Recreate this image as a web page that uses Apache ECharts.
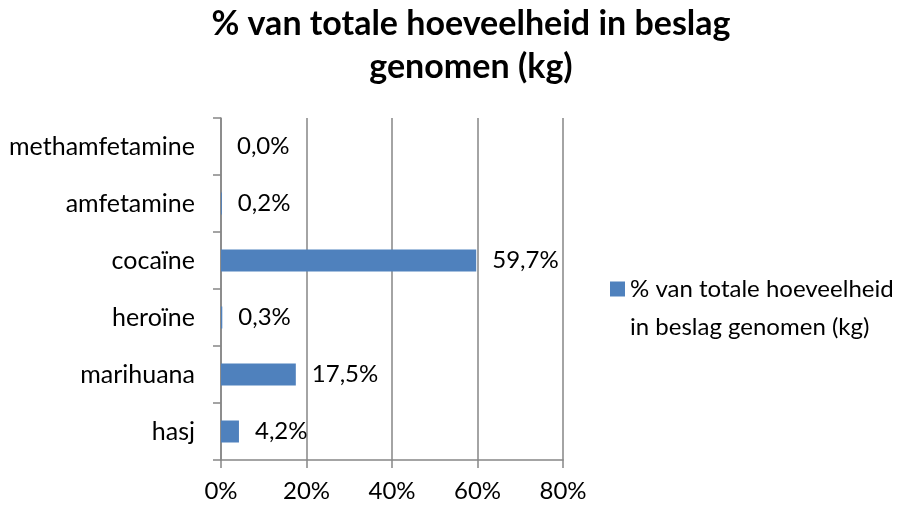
<!DOCTYPE html>
<html>
<head>
<meta charset="UTF-8">
<title>% van totale hoeveelheid in beslag genomen (kg)</title>
<style>
  html, body { margin: 0; padding: 0; background: #fff; }
  #chart { width: 909px; height: 505px; }
</style>
</head>
<body>
<div id="chart"></div>
<script src="https://cdn.jsdelivr.net/npm/echarts@6/dist/echarts.min.js"></script>
<script>
// categories from bottom to top
var drugs = ['hasj', 'marihuana', 'hero\u00efne', 'coca\u00efne', 'amfetamine', 'methamfetamine'];
// percent of total seized weight
var shares = [4.2, 17.5, 0.3, 59.7, 0.2, 0.0];
var xTicks = [0, 20, 40, 60, 80];

var seriesName = '% van totale hoeveelheid in beslag genomen (kg)';
var font = 'Lato, "Open Sans", sans-serif';

var chart = echarts.init(document.getElementById('chart'));

var option = {
  backgroundColor: '#ffffff',
  animation: false,
  title: {
    text: '% van totale hoeveelheid in beslag\ngenomen (kg)',
    left: 471,
    textAlign: 'center',
    top: 3,
    padding: 0,
    textStyle: {
      fontFamily: font,
      fontSize: 34,
      fontWeight: 'bold',
      color: '#000',
      lineHeight: 43
    }
  },
  legend: {
    data: [seriesName],
    left: 605,
    top: 227,
    itemWidth: 15,
    itemHeight: 15,
    itemGap: 6,
    icon: 'rect',
    // leading blank line keeps the marker level with the first text line
    formatter: function () {
      return ' \n% van totale hoeveelheid\nin beslag genomen (kg)';
    },
    textStyle: {
      fontFamily: font,
      fontSize: 24,
      color: '#000',
      lineHeight: 38
    }
  },
  grid: {
    left: 221,
    right: 346,
    top: 118,
    bottom: 45
  },
  xAxis: {
    type: 'value',
    min: 0,
    max: 80,
    interval: 20,
    axisLine: { show: true, lineStyle: { color: '#868686', width: 1.5 } },
    axisTick: { show: true, length: 8, lineStyle: { color: '#868686', width: 1.5 } },
    splitLine: { show: true, lineStyle: { color: '#868686', width: 1.5 } },
    axisLabel: {
      margin: 19,
      fontFamily: font,
      fontSize: 24,
      color: '#000',
      formatter: function (v) { return xTicks.indexOf(v) >= 0 ? v + '%' : ''; }
    }
  },
  yAxis: {
    type: 'category',
    data: drugs,
    axisLine: { show: true, lineStyle: { color: '#868686', width: 1.5 } },
    axisTick: { show: true, length: 8, lineStyle: { color: '#868686', width: 1.5 } },
    axisLabel: {
      margin: 26,
      fontFamily: font,
      fontSize: 25,
      color: '#000'
    }
  },
  series: [{
    name: seriesName,
    type: 'bar',
    data: shares,
    barWidth: 22,
    itemStyle: { color: '#4f81bd' },
    label: {
      show: true,
      position: 'right',
      distance: 16,
      fontFamily: font,
      fontSize: 24,
      color: '#000',
      formatter: function (p) { return p.value.toFixed(1).replace('.', ',') + '%'; }
    }
  }]
};

chart.setOption(option);
</script>
</body>
</html>
